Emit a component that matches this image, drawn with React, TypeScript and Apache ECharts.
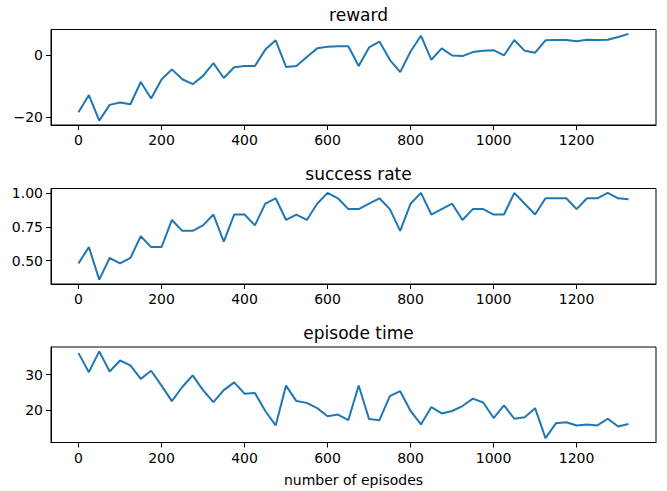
import React, { useEffect, useRef } from "react";
import * as echarts from "echarts";

const episodes: number[] = Array.from({ length: 54 }, (_, i) => i * 25);

const reward: number[] = [
  -18.5, -12.9, -21.2, -16.1, -15.3, -15.9, -8.7, -14.0, -7.9, -4.6,
  -7.8, -9.4, -6.7, -2.6, -7.4, -3.9, -3.5, -3.5, 1.8, 4.8,
  -3.8, -3.5, -0.6, 2.2, 2.7, 2.9, 2.9, -3.5, 2.5, 4.4,
  -1.5, -5.5, 1.2, 6.3, -1.5, 2.2, -0.1, -0.3, 1.0, 1.4,
  1.6, -0.1, 4.9, 1.4, 0.8, 4.8, 4.9, 4.9, 4.5, 5.0,
  4.9, 5.0, 5.9, 6.9,
];

const successRate: number[] = [
  0.48, 0.6, 0.36, 0.52, 0.48, 0.52, 0.68, 0.6, 0.6, 0.8,
  0.72, 0.72, 0.76, 0.84, 0.64, 0.84, 0.84, 0.76, 0.92, 0.96,
  0.8, 0.84, 0.8, 0.92, 1.0, 0.96, 0.88, 0.88, 0.92, 0.96,
  0.88, 0.72, 0.92, 1.0, 0.84, 0.88, 0.92, 0.8, 0.88, 0.88,
  0.84, 0.84, 1.0, 0.92, 0.84, 0.96, 0.96, 0.96, 0.88, 0.96,
  0.96, 1.0, 0.96, 0.953,
];

const episodeTime: number[] = [
  36.1, 30.7, 36.6, 30.9, 34.0, 32.6, 28.8, 31.1, 26.9, 22.5,
  26.5, 29.8, 25.6, 22.2, 25.6, 27.8, 24.6, 24.8, 19.7, 15.6,
  26.9, 22.5, 22.0, 20.5, 18.2, 18.7, 17.1, 26.9, 17.4, 17.1,
  23.9, 25.3, 19.7, 15.9, 20.8, 19.0, 19.7, 21.1, 23.2, 22.1,
  17.7, 21.3, 17.5, 17.9, 20.5, 12.0, 16.2, 16.5, 15.6, 15.9,
  15.6, 17.5, 15.3, 16.0,
];

const titles: string[] = ["reward", "success rate", "episode time"];
const xTicks: number[] = [0, 200, 400, 600, 800, 1000, 1200];
const yTicks: number[][] = [[-20, 0], [0.5, 0.75, 1.0], [20, 30]];
const xLabel = "number of episodes";

function pad(arr: number[]): [number, number] {
  const mn = Math.min(...arr);
  const mx = Math.max(...arr);
  const r = mx - mn;
  return [mn - 0.05 * r, mx + 0.05 * r];
}

const minus = (s: string) => s.replace("-", "\u2212");

export default function App() {
  const ref = useRef<HTMLDivElement>(null);
  useEffect(() => {
    if (!ref.current) return;
    const chart = echarts.init(ref.current, undefined, { renderer: "svg" });
    const font = "DejaVu Sans";
    const tops = [29.5, 188.5, 347];
    const h = 95.5;
    const left = 51;
    const right = 11;
    const seriesData = [reward, successRate, episodeTime];
    const xr = pad(episodes);
    const fmt = [
      (v: number) => minus(String(v)),
      (v: number) => v.toFixed(2),
      (v: number) => String(v),
    ];
    const option: any = {
      animation: false,
      backgroundColor: "#fff",
      title: titles.map((t, i) => ({
        text: t,
        left: left + (667 - left - right) / 2,
        top: tops[i] - 28,
        textAlign: "center",
        textStyle: { fontFamily: font, fontSize: 17, fontWeight: "normal", color: "#000" },
      })),
      grid: tops.map((t) => ({
        left,
        right,
        top: t,
        height: h,
        show: true,
        borderColor: "#000",
        borderWidth: 1,
        containLabel: false,
      })),
      xAxis: tops.map((_, i) => ({
        type: "value",
        gridIndex: i,
        min: xr[0],
        max: xr[1],
        splitLine: { show: false },
        axisLine: { show: true, onZero: false, lineStyle: { color: "#000", width: 1 } },
        axisTick: {
          show: true,
          inside: false,
          length: 5,
          lineStyle: { color: "#000" },
          customValues: xTicks,
        },
        axisLabel: {
          show: true,
          margin: 8,
          color: "#000",
          fontFamily: font,
          fontSize: 14,
          customValues: xTicks,
          formatter: (v: number) => String(v),
        },
        name: i === 2 ? xLabel : "",
        nameLocation: "middle",
        nameGap: 30,
        nameTextStyle: { fontFamily: font, fontSize: 14, color: "#000" },
      })),
      yAxis: tops.map((_, i) => {
        const r = pad(seriesData[i]);
        return {
          type: "value",
          gridIndex: i,
          min: r[0],
          max: r[1],
          splitLine: { show: false },
          axisLine: { show: true, onZero: false, lineStyle: { color: "#000", width: 1 } },
          axisTick: {
            show: true,
            inside: false,
            length: 5,
            lineStyle: { color: "#000" },
            customValues: yTicks[i],
          },
          axisLabel: {
            show: true,
            margin: 8,
            color: "#000",
            fontFamily: font,
            fontSize: 14,
            customValues: yTicks[i],
            formatter: fmt[i],
          },
        };
      }),
      series: seriesData.map((d, i) => ({
        type: "line",
        xAxisIndex: i,
        yAxisIndex: i,
        data: d.map((v, j) => [episodes[j], v]),
        showSymbol: false,
        symbol: "none",
        lineStyle: { color: "#1f77b4", width: 2 },
        itemStyle: { color: "#1f77b4" },
      })),
    };
    chart.setOption(option);
    return () => chart.dispose();
  }, []);
  return (
    <div
      ref={ref}
      style={{ position: "fixed", left: 0, top: 0, width: 667, height: 491 }}
    />
  );
}
